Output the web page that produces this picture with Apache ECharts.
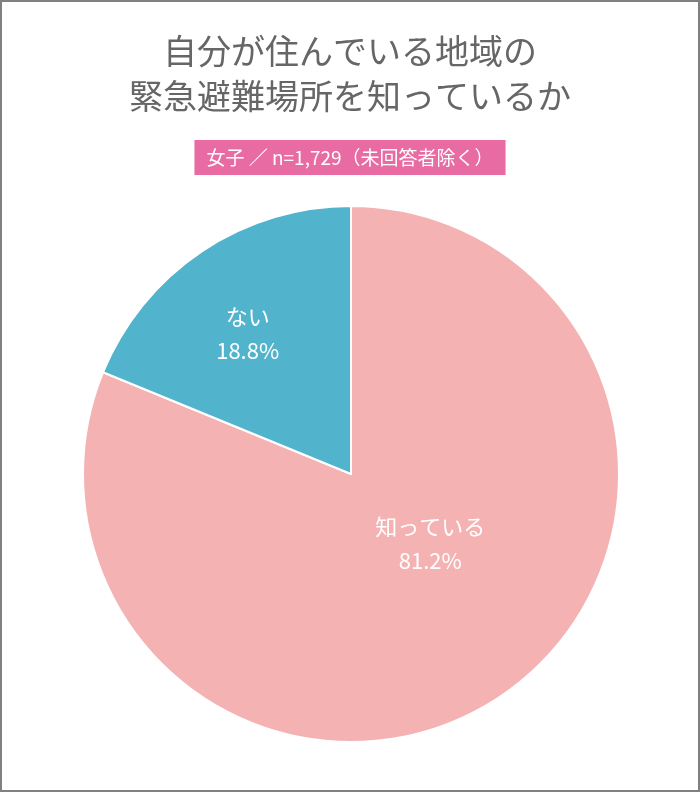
<!DOCTYPE html>
<html>
<head>
<meta charset="utf-8">
<script src="https://cdn.jsdelivr.net/npm/echarts@6/dist/echarts.min.js"></script>
<style>
  html, body { margin: 0; padding: 0; background: #fff; }
  #main { width: 700px; height: 792px; box-sizing: border-box; border: 2px solid #808080; }
</style>
</head>
<body>
<div id="main"></div>
<script>
const categories = ['知っている', 'ない'];
const values = [81.2, 18.8];
const colors = ['#f5b2b3', '#52b3cc'];
// label nudges so the text sits where the original put it
const labelOffsets = [[3, -44], [-27, -27]];

const chartDom = document.getElementById('main');
const myChart = echarts.init(chartDom);
const font = '"Noto Sans CJK JP", "Noto Sans", sans-serif';

const option = {
    backgroundColor: '#fff',
    title: [{
        left: 'center',
        top: 22,
        text: '自分が住んでいる地域の\n緊急避難場所を知っているか',
        textStyle: {
            color: '#666666',
            fontSize: 34,
            fontWeight: 'normal',
            fontFamily: font,
            lineHeight: 45
        }
    }, {
        left: 'center',
        top: 138,
        text: '女子 ／ n=1,729（未回答者除く）',
        backgroundColor: '#e96ba3',
        padding: [6, 12, 6, 12],
        textStyle: {
            color: '#fff',
            fontSize: 19,
            fontWeight: 'normal',
            fontFamily: font,
            lineHeight: 23
        }
    }],
    series: [{
        type: 'pie',
        center: [349, 472],
        radius: 268,
        startAngle: 90,
        clockwise: true,
        silent: true,
        animation: false,
        itemStyle: {
            borderColor: '#fff',
            borderWidth: 2
        },
        label: {
            position: 'inner',
            color: '#fff',
            fontSize: 22,
            fontFamily: font,
            lineHeight: 34,
            formatter: p => p.name + '\n' + p.value.toFixed(1) + '%'
        },
        labelLine: { show: false },
        data: categories.map((c, i) => ({
            name: c,
            value: values[i],
            itemStyle: { color: colors[i] },
            label: { offset: labelOffsets[i] }
        }))
    }]
};

option && myChart.setOption(option);
</script>
</body>
</html>
